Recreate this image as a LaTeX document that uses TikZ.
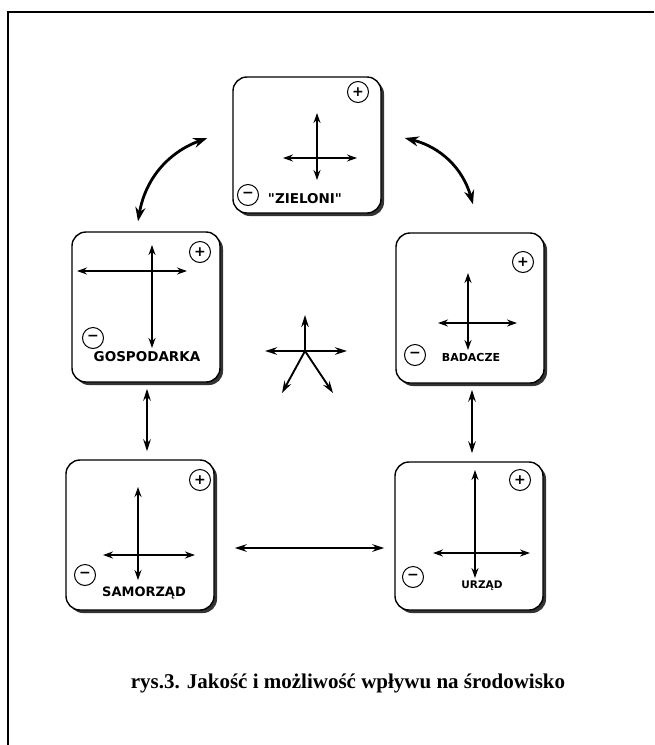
\documentclass[tikz,border=0pt]{standalone}
\usepackage{fontspec}
\setmainfont{Liberation Serif}
\newfontfamily\boxfont{DejaVu Sans}
\usetikzlibrary{arrows.meta,shadows,positioning}

\begin{document}
\begin{tikzpicture}[x=1pt,y=-1pt,
  card/.style={draw, line width=1.4pt, rounded corners=14pt, fill=white,
    minimum width=148pt, minimum height=150pt, inner sep=0pt,
    drop shadow={shadow xshift=3pt, shadow yshift=-3pt, fill=black!80, opacity=1}},
  sign/.style={draw, circle, line width=1pt, minimum size=21pt, inner sep=0pt,
    font=\boxfont\bfseries\fontsize{14}{14}\selectfont},
  tag/.style={font=\boxfont\bfseries, inner sep=0pt},
  axis/.style={line width=1.7pt, >={Stealth[length=10pt,width=7pt]}},
  link/.style={line width=1.9pt, >={Stealth[length=12pt,width=7.5pt]}},
  swing/.style={line width=2.8pt, >={Stealth[length=14pt,width=10pt]}}]
\useasboundingbox (0,0) rectangle (654,745);

% frame
\draw[line width=1.6pt] (8,745) -- (8,12) -- (654,12);

% boxes
\node[card, minimum height=136pt] (zieloni) at (307,145) {};
\node[card] (gosp) at (146,307) {};
\node[card] (badacze) at (470,308) {};
\node[card] (samorzad) at (140,535) {};
\node[card, minimum height=148pt] (urzad) at (469,536) {};

% signs
\node[sign] (zplus) at (358,92) {+};
\node[sign] (zminus) at (248,195) {−};
\node[sign] (gplus) at (200,252) {+};
\node[sign] (gminus) at (93,338) {−};
\node[sign] (bplus) at (523,262) {+};
\node[sign] (bminus) at (415,355) {−};
\node[sign] (splus) at (200,480) {+};
\node[sign] (sminus) at (85,575) {−};
\node[sign] (uplus) at (520,480) {+};
\node[sign] (uminus) at (413,577) {−};

% labels
\node[tag, font=\boxfont\bfseries\fontsize{13.5}{13.5}\selectfont] (zlabel) at (305,199) {"ZIELONI"};
\node[tag, font=\boxfont\bfseries\fontsize{13.5}{13.5}\selectfont] (glabel) at (147,357) {GOSPODARKA};
\node[tag, font=\boxfont\bfseries\fontsize{11}{11}\selectfont] (blabel) at (471,357) {BADACZE};
\node[tag, font=\boxfont\bfseries\fontsize{13}{13}\selectfont] (slabel) at (144,593) {SAMORZĄD};
\node[tag, font=\boxfont\bfseries\fontsize{10.5}{10.5}\selectfont] (ulabel) at (482,586) {URZĄD};

% crosses
\draw[axis,<->] (317,113) -- (317,180);
\draw[axis,<->] (283,158) -- (357,158);
\draw[axis,<->] (152,245) -- (152,348);
\draw[axis,<->] (77,271) -- (187,271);
\draw[axis,<->] (468,273) -- (468,350);
\draw[axis,<->] (438,323) -- (517,323);
\draw[axis,<->] (138,487) -- (138,580);
\draw[axis,<->] (103,555) -- (195,555);
\draw[axis,<->] (475,470) -- (475,578);
\draw[axis,<->] (433,553) -- (530,553);

% star
\coordinate (hub) at (305,351);
\draw[link,->] (hub) -- (305,315);
\draw[link,->] (hub) -- (265,351);
\draw[link,->] (hub) -- (347,351);
\draw[link,->] (hub) -- (282,393);
\draw[link,->] (hub) -- (333,393);

% connectors
\coordinate (tlA) at ([xshift=-25pt,yshift=7pt]zieloni.west);
\coordinate (tlB) at ([xshift=-8pt,yshift=10pt]gosp.north);
\draw[swing,<->] (tlA) to[bend right=30] (tlB);
\coordinate (trA) at ([xshift=23pt,yshift=7pt]zieloni.east);
\coordinate (trB) at ([xshift=3pt,yshift=28pt]badacze.north);
\draw[swing,<->] (trA) to[bend left=30] (trB);
\draw[link,<->] ([xshift=1pt,yshift=-6pt]gosp.south) -- ([xshift=1pt,yshift=8pt]gosp.south |- samorzad.north);
\draw[link,<->] ([xshift=2pt,yshift=-6pt]badacze.south) -- ([xshift=2pt,yshift=8pt]badacze.south |- urzad.north);
\draw[link,<->] ([xshift=20pt,yshift=-13pt]samorzad.east) -- ([xshift=-10pt,yshift=-13pt]samorzad.east -| urzad.west);

\node (caption) at (348,683) {\fontsize{21}{24}\selectfont\bfseries rys.3. Jakość i możliwość wpływu na środowisko};
\end{tikzpicture}
\end{document}
